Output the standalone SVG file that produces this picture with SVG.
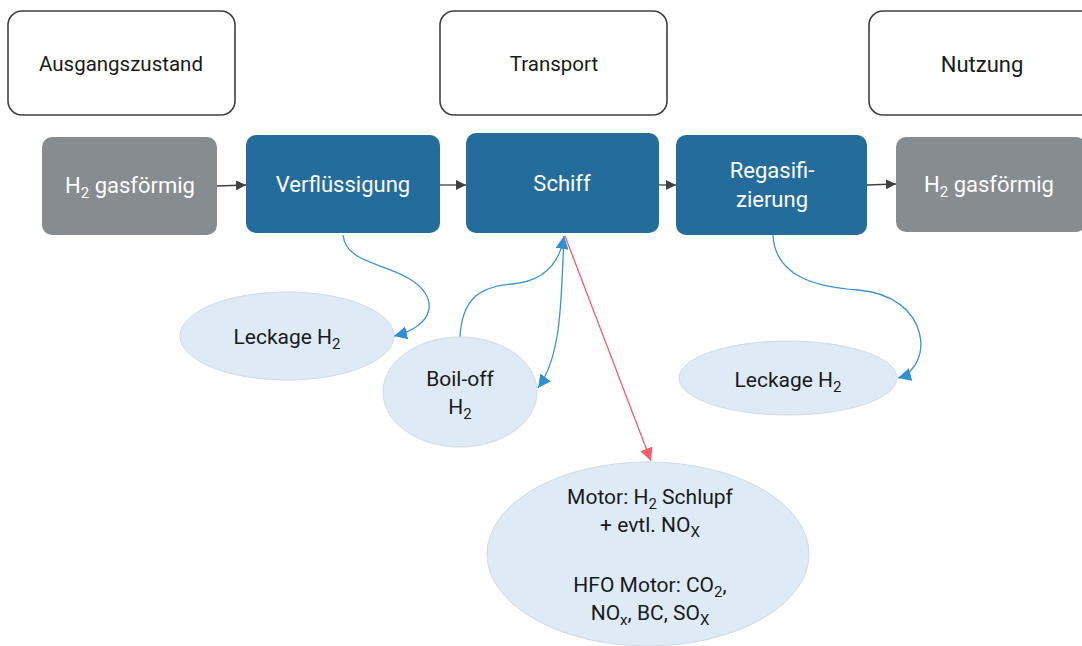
<svg xmlns="http://www.w3.org/2000/svg" width="1082" height="646" viewBox="0 0 1082 646">
<style>
.hdr{fill:#fff;stroke:#404040;stroke-width:1.6}
.gray{fill:#878c91}
.blue{fill:#246c9b}
.ell{fill:#deebf7;stroke:#d0dbe6;stroke-width:1}
text{font-family:Roboto,"Liberation Sans",sans-serif;text-anchor:middle}
.t{fill:#1a1a1a;font-size:20.5px}
.w{fill:#fff;font-size:22px}
.e{fill:#1a1a1a;font-size:21px}
.sub{font-size:15px}
.flow{stroke:#404040;stroke-width:1.3;fill:none}
.bl{stroke:#3d94cf;stroke-width:1.3;fill:none}
.rd{stroke:#f0606c;stroke-width:1.3;fill:none}
</style>
<defs>
<marker id="ag" viewBox="0 0 10 10" refX="10" refY="5" markerWidth="10" markerHeight="10" markerUnits="userSpaceOnUse" orient="auto"><path d="M0,0 L10,5 L0,10 z" fill="#404040"/></marker>
<marker id="ab" viewBox="0 0 10 10" refX="10" refY="5" markerWidth="13" markerHeight="13" markerUnits="userSpaceOnUse" orient="auto"><path d="M0,0 L10,5 L0,10 z" fill="#2f8fd0"/></marker>
<marker id="ar" viewBox="0 0 10 10" refX="10" refY="5" markerWidth="13" markerHeight="13" markerUnits="userSpaceOnUse" orient="auto"><path d="M0,0 L10,5 L0,10 z" fill="#f0606c"/></marker>
</defs>
<rect width="1082" height="646" fill="#fff"/>
<g id="hdr-ausgang"><rect class="hdr" x="8" y="11" width="227" height="104" rx="14"/><text class="t" x="121" y="71">Ausgangszustand</text></g>
<g id="hdr-transport"><rect class="hdr" x="440" y="11" width="227" height="104" rx="14"/><text class="t" x="554" y="71">Transport</text></g>
<g id="hdr-nutzung"><rect class="hdr" x="869" y="11" width="227" height="104" rx="14"/><text class="t" x="982" y="72" style="font-size:22px">Nutzung</text></g>
<g id="connectors">
<path class="flow" d="M217,186 L246,185" marker-end="url(#ag)"/>
<path class="flow" d="M440,185 L466,185" marker-end="url(#ag)"/>
<path class="flow" d="M659,185 L676,185" marker-end="url(#ag)"/>
<path class="flow" d="M867,185 L896,184" marker-end="url(#ag)"/>
<path class="bl" d="M343,235 C346,262 380,262 408,278 C440,296 436,326 394,336" marker-end="url(#ab)"/>
<path class="bl" d="M460,337 C462,300 478,287 512,284 C546,281 560,262 564,236" marker-end="url(#ab)"/>
<path class="bl" d="M564,236 C561,300 562,355 538,388" marker-end="url(#ab)"/>
<path class="bl" d="M773,235 C775,276 815,287 858,290 C932,296 934,368 898,378" marker-end="url(#ab)"/>
<path class="rd" d="M565,236 L651,461" marker-end="url(#ar)"/>
</g>
<g id="n-h2-start"><rect class="gray" x="42" y="137" width="175" height="98" rx="10"/><text class="w" x="130" y="193">H<tspan class="sub" dy="5">2</tspan><tspan dy="-5"> gasförmig</tspan></text></g>
<g id="n-verfluessigung"><rect class="blue" x="246" y="135" width="194" height="98" rx="10"/><text class="w" x="343" y="192">Verflüssigung</text></g>
<g id="n-schiff"><rect class="blue" x="466" y="133" width="193" height="100" rx="10"/><text class="w" x="562" y="191">Schiff</text></g>
<g id="n-regas"><rect class="blue" x="676" y="135" width="191" height="100" rx="10"/><text class="w" x="772" y="178">Regasifi-</text><text class="w" x="772" y="207">zierung</text></g>
<g id="n-h2-end"><rect class="gray" x="896" y="137" width="190" height="95" rx="10"/><text class="w" x="989" y="192">H<tspan class="sub" dy="5">2</tspan><tspan dy="-5"> gasförmig</tspan></text></g>
<g id="n-leck1"><ellipse class="ell" cx="287" cy="336" rx="107" ry="44"/><text class="e" x="287" y="344">Leckage H<tspan class="sub" dy="5">2</tspan></text></g>
<g id="n-boiloff"><ellipse class="ell" cx="460" cy="392" rx="77" ry="55"/><text class="e" x="460" y="386">Boil-off</text><text class="e" x="460" y="414">H<tspan class="sub" dy="5">2</tspan></text></g>
<g id="n-leck2"><ellipse class="ell" cx="788" cy="378" rx="109" ry="37"/><text class="e" x="788" y="387">Leckage H<tspan class="sub" dy="5">2</tspan></text></g>
<g id="n-motor"><ellipse class="ell" cx="648" cy="554" rx="161" ry="92"/>
<text class="e" x="650" y="504">Motor: H<tspan class="sub" dy="5">2</tspan><tspan dy="-5"> Schlupf</tspan></text>
<text class="e" x="650" y="532">+ evtl. NO<tspan class="sub" dy="5">X</tspan></text>
<text class="e" x="650" y="592">HFO Motor: CO<tspan class="sub" dy="5">2</tspan><tspan dy="-5">,</tspan></text>
<text class="e" x="650" y="620">NO<tspan class="sub" dy="5">x</tspan><tspan dy="-5">, BC, SO</tspan><tspan class="sub" dy="5">X</tspan></text>
</g>
</svg>
